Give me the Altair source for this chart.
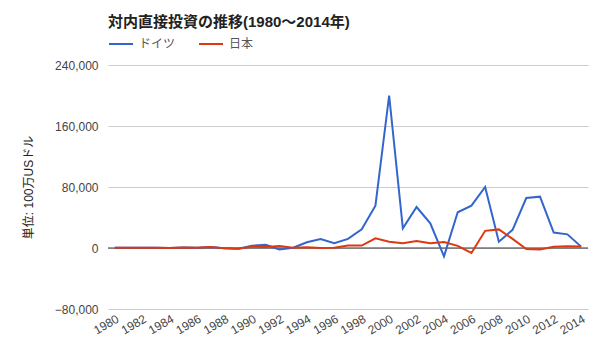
import altair as alt
import pandas as pd

years = list(range(1980, 2015))
germany = [300, 200, 450, 420, 0, 650, 250, 1200, -400, -900,
           3000, 4200, -1800, 400, 7600, 11900, 6200, 11900, 24500, 55500,
           200000, 25800, 53700, 32300, -11000, 46800, 55500, 80000, 8300, 23800,
           65500, 67300, 20300, 17900, 1800]
japan = [280, 190, 440, 420, -10, 640, 230, 1170, -490, -1050,
         1800, 1300, 2700, 200, 900, 40, 230, 3200, 3200, 12700,
         8300, 6200, 9200, 6300, 7800, 2800, -6500, 22500, 24400, 11900,
         -1300, -1800, 1700, 2300, 2100]
series = ["ドイツ", "日本"]
colors = ["#3366cc", "#dc3912"]
y_ticks = [-80000, 0, 80000, 160000, 240000]

df = pd.DataFrame({
    "year": [str(y) for y in years] * 2,
    "value": germany + japan,
    "country": [series[0]] * len(years) + [series[1]] * len(years),
})

font = "Arial, 'Liberation Sans', 'Noto Sans CJK JP', sans-serif"

x_enc = alt.X("year:O", scale=alt.Scale(type="point", padding=0.5),
              axis=alt.Axis(title=None, labelAngle=-30, ticks=False, domain=False,
                            labelExpr="parseInt(datum.value) % 2 == 0 ? datum.value : ''",
                            labelColor="#444", labelFontSize=12, labelPadding=4,
                            labelAlign="right", labelBaseline="top", labelOverlap=False))
y_enc = alt.Y("value:Q", scale=alt.Scale(domain=[-80000, 240000], nice=False),
              axis=alt.Axis(title="単位: 100万USドル", values=y_ticks, format=",d",
                            ticks=False, domain=False, gridColor="#cccccc",
                            labelColor="#444", labelFontSize=12, labelPadding=10,
                            titleFontSize=12, titleFontWeight="normal", titleColor="#222",
                            titleX=-80, titleY=122, titleAngle=270, titleBaseline="middle"))
color_enc = alt.Color("country:N", scale=alt.Scale(domain=series, range=colors),
                      legend=alt.Legend(title=None, orient="none", legendX=0, legendY=-34,
                                        direction="horizontal", symbolType="stroke",
                                        symbolSize=576, symbolStrokeWidth=2,
                                        labelFontSize=12, labelColor="#555",
                                        labelOffset=5, columnPadding=19, padding=0))

base = alt.Chart(df)
zero = alt.Chart(pd.DataFrame({"z": [0]})).mark_rule(color="#333", strokeWidth=1).encode(
    y=alt.Y("z:Q", scale=alt.Scale(domain=[-80000, 240000], nice=False)))
ger = base.transform_filter(alt.datum.country == series[0]).mark_line(strokeWidth=2).encode(
    x=x_enc, y=y_enc, color=color_enc)
jpn = base.transform_filter(alt.datum.country == series[1]).mark_line(strokeWidth=2).encode(
    x=x_enc, y=y_enc, color=color_enc)

chart = alt.layer(zero, ger, jpn).properties(
    width=480, height=244,
    title=alt.TitleParams("対内直接投資の推移(1980～2014年)", anchor="start", frame="group",
                          fontSize=15, fontWeight="bold", color="#222", offset=1),
    autosize=alt.AutoSizeParams(type="none"),
    padding={"left": 100, "top": 57, "right": 4, "bottom": 40},
).configure(font=font).configure_view(stroke=None)

chart.save("out.html", embed_options={"renderer": "svg", "actions": False})
